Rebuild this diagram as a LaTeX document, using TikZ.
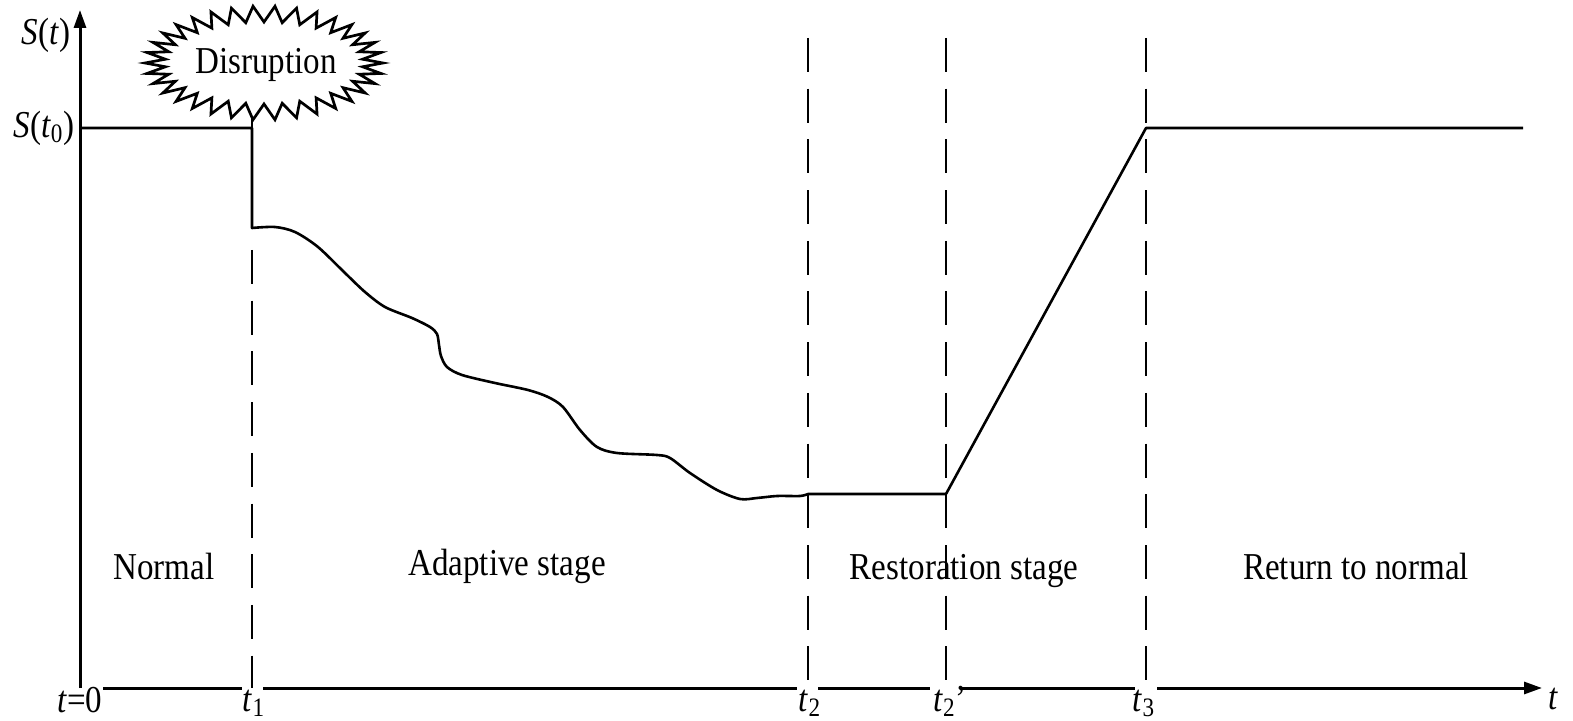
\documentclass[tikz,border=0pt]{standalone}
\usepackage{fontspec}
\setmainfont{Liberation Serif}[FakeStretch=0.87]
\usetikzlibrary{arrows.meta}

\begin{document}
\begin{tikzpicture}[x=0.5pt,y=-0.5pt,
  axis/.style={line width=1.5pt},
  axisarrow/.style={axis,-{Triangle[length=9pt,width=6pt]}},
  curve/.style={line width=1.3pt,line join=round},
  stagemark/.style={line width=1pt,dash pattern=on 17pt off 8.35pt},
  lbl/.style={font=\fontsize{19}{22}\selectfont,inner sep=0pt},
  ticklbl/.style={lbl,anchor=base},
  burst/.style={line width=1.35pt,line join=miter,fill=white},
]
\useasboundingbox (0,0) rectangle (1573,721);

% axes
\coordinate (O) at (80,688);
\coordinate (ytop) at (80,10);
\coordinate (xend) at (1542,688);
\draw[axisarrow] (O) -- (ytop);
\draw[axis] (103,688) -- (242,688);
\draw[axis] (263,688) -- (797,688);
\draw[axis] (818,688) -- (930,688);
\draw[axis] (962,688) -- (1135,688);
\draw[axisarrow] (1157,688) -- (xend);

% stage boundaries
\coordinate (t1a) at (252,250);  \coordinate (t1b) at (252,688);
\coordinate (t2a) at (808,38);   \coordinate (t2b) at (808,688);
\coordinate (t2pa) at (946,38);  \coordinate (t2pb) at (946,688);
\coordinate (t3a) at (1146,38);  \coordinate (t3b) at (1146,688);
\draw[stagemark] (t1a) -- (t1b);
\draw[stagemark] (t2a) -- (t2b);
\draw[stagemark] (t2pa) -- (t2pb);
\draw[stagemark] (t3a) -- (t3b);

% disruption burst: 34 spikes around an ellipse
\draw[burst] ({264+119},63)
  \foreach \k in {1,...,67} {
    -- ({264+(109+10*cos(\k*180))*cos(\k*180/34)},
        {63+(49+8*cos(\k*180))*sin(\k*180/34)})
  } -- cycle;
\node[lbl] (dis) at (266,65) {Disruption};
\coordinate (burstfoot) at (252,119);

% system performance
\coordinate (s0) at (80,128);
\coordinate (hit) at (252,128);
\coordinate (drop) at (252,228);
\coordinate (low) at (808,494);
\coordinate (rs) at (946,494);
\coordinate (back) at (1146,128);
\coordinate (fin) at (1523,128);
\draw[curve] (burstfoot) -- (hit);
\draw[curve] (s0) -- (hit) -- (drop)
  -- plot[smooth,tension=0.5] coordinates {
    (252,228) (275,227) (295,232) (318,247) (345,273) (365,292)
    (385,307) (412,318) (430,327) (437,334) (439,345) (441,356)
    (447,367) (462,375) (495,383) (528,390) (548,397) (563,407)
    (580,430) (597,447) (617,453) (657,455) (670,458) (690,473)
    (717,490) (740,499) (757,498) (777,496) (800,496) (808,494)}
  -- (rs) -- (back) -- (fin);

% axis labels
\node[lbl] (ylab) at (46,35) {\textit{S}(\textit{t})};
\node[lbl] (s0lab) at (44,128) {\textit{S}(\textit{t}\textsubscript{0})};
\node[ticklbl] (zero) at (80,712) {\textit{t}=0};
\node[ticklbl] (lt1) at (254,711) {\textit{t}\textsubscript{1}};
\node[ticklbl] (lt2) at (810,711) {\textit{t}\textsubscript{2}};
\node[ticklbl] (lt2p) at (950,711) {\textit{t}\textsubscript{2}’};
\node[ticklbl] (lt3) at (1144,711) {\textit{t}\textsubscript{3}};
\node[ticklbl] (xlab) at (1553,709) {\textit{t}};

% stage names
\node[lbl] (n1) at (164,566) {Normal};
\node[lbl] (n2) at (507,566) {Adaptive stage};
\node[lbl] (n3) at (964,571) {Restoration stage};
\node[lbl] (n4) at (1356,566) {Return to normal};
\end{tikzpicture}
\end{document}
